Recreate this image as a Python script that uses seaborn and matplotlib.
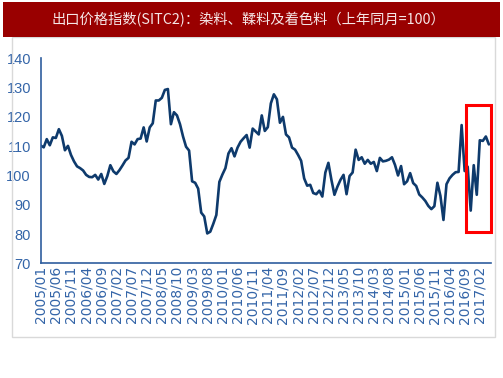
import numpy as np
import pandas as pd
import matplotlib
matplotlib.use("Agg")
import matplotlib.pyplot as plt
from matplotlib.patches import Rectangle
import seaborn as sns

# chart data
title = "出口价格指数(SITC2)：染料、鞣料及着色料（上年同月=100）"

values = [
    110.2, 109.6, 112.4, 110.3, 113.0, 112.8, 115.8, 113.5, 108.6, 110.1,
    107.0, 104.8, 103.1, 102.5, 101.7, 100.2, 99.5, 99.4, 100.2, 98.6,
    100.5, 97.1, 99.8, 103.5, 101.4, 100.5, 101.8, 103.4, 105.1, 106.0,
    111.5, 110.6, 112.4, 112.6, 116.4, 111.6, 116.4, 117.8, 125.6, 125.6,
    126.5, 129.2, 129.5, 117.5, 121.6, 120.5, 117.5, 113.3, 109.8, 108.5,
    98.0, 97.5, 95.5, 87.3, 86.0, 80.2, 80.8, 83.5, 86.5, 97.8,
    100.3, 102.5, 107.5, 109.3, 106.5, 109.5, 111.5, 112.7, 113.8, 109.5,
    116.0, 115.0, 114.0, 120.5, 115.2, 116.5, 124.6, 127.7, 126.0, 118.0,
    120.0, 114.0, 113.0, 109.5, 108.8, 107.0, 105.0, 99.0, 96.5, 96.8,
    94.0, 93.6, 94.8, 92.8, 101.0, 104.3, 98.5, 93.4, 96.2, 98.5,
    100.2, 93.6, 99.8, 101.0, 108.8, 105.3, 106.2, 104.0, 105.3, 104.0,
    104.6, 101.5, 106.0, 104.8, 105.0, 105.4, 106.2, 103.6, 100.0, 103.2,
    97.0, 98.0, 100.8, 97.4, 96.4, 93.5, 92.5, 91.3, 89.6, 88.5,
    89.5, 97.5, 93.0, 84.8, 97.0, 99.0, 100.2, 101.1, 101.2, 117.2,
    101.5, 103.0, 88.0, 103.5, 93.4, 112.0, 111.8, 113.3, 110.6,
]

tick_labels = [
    "2005/01", "2005/06", "2005/11", "2006/04", "2006/09", "2007/02",
    "2007/07", "2007/12", "2008/05", "2008/10", "2009/03", "2009/08",
    "2010/01", "2010/06", "2010/11", "2011/04", "2011/09", "2012/02",
    "2012/07", "2012/12", "2013/05", "2013/10", "2014/03", "2014/08",
    "2015/01", "2015/06", "2015/11", "2016/04", "2016/09", "2017/02",
]

y_ticks = [70, 80, 90, 100, 110, 120, 130, 140]

# highlighted box (month index range, value range)
box_x = [140.3, 148.7]
box_y = [80.6, 124.0]

df = pd.DataFrame({"month": np.arange(len(values)), "value": values})

sns.set_style("white")
plt.rcParams["font.family"] = ["DejaVu Sans"]

axis_blue = "#2F5E9E"
label_blue = "#3465A8"
line_blue = "#0E3A6C"

fig = plt.figure(figsize=(5.03, 3.78), dpi=100)

# outer light frame
fig.add_artist(Rectangle((12 / 503, 1 - 337 / 378), (495 - 12) / 503, 300 / 378,
                         transform=fig.transFigure, fill=False,
                         edgecolor="#D9D9D9", linewidth=1.0))

# title bar
fig.add_artist(Rectangle((3 / 503, 1 - 37 / 378), 497 / 503, 35 / 378,
                         transform=fig.transFigure, facecolor="#990000",
                         edgecolor="none"))
fig.text(248 / 503, 1 - 20 / 378, title, color="#F5E6E6", fontsize=10.3,
         ha="center", va="center",
         family=["Noto Sans CJK SC", "DejaVu Sans"])

ax = fig.add_axes([40.7 / 503, 1 - 263.3 / 378, 450.3 / 503, 205 / 378])

sns.lineplot(data=df, x="month", y="value", ax=ax, color=line_blue,
             linewidth=1.9)

ax.add_patch(Rectangle((box_x[0], box_y[0]), box_x[1] - box_x[0],
                       box_y[1] - box_y[0], fill=False, edgecolor="#FF0000",
                       linewidth=2.2, clip_on=False, zorder=5))

ax.set_xlim(0, 148.7)
ax.set_ylim(70, 140)
ax.set_xlabel("")
ax.set_ylabel("")

ax.set_xticks(np.arange(0, 5 * len(tick_labels), 5))
ax.set_xticklabels(tick_labels, rotation=90, fontsize=10, color=label_blue)
ax.set_yticks(y_ticks)
ax.set_yticklabels([str(v) for v in y_ticks], fontsize=10.5, color=label_blue,
                   family=["Liberation Sans Narrow", "Liberation Sans"])

ax.tick_params(axis="both", direction="in", length=3, width=1.0,
               color=axis_blue)
ax.tick_params(axis="y", pad=7)
ax.tick_params(axis="x", pad=2)

for s in ["top", "right"]:
    ax.spines[s].set_visible(False)
for s in ["left", "bottom"]:
    ax.spines[s].set_color(axis_blue)
    ax.spines[s].set_linewidth(1.2)

ax.grid(False)
ax.patch.set_alpha(0)

plt.savefig("out.png", dpi=100)
